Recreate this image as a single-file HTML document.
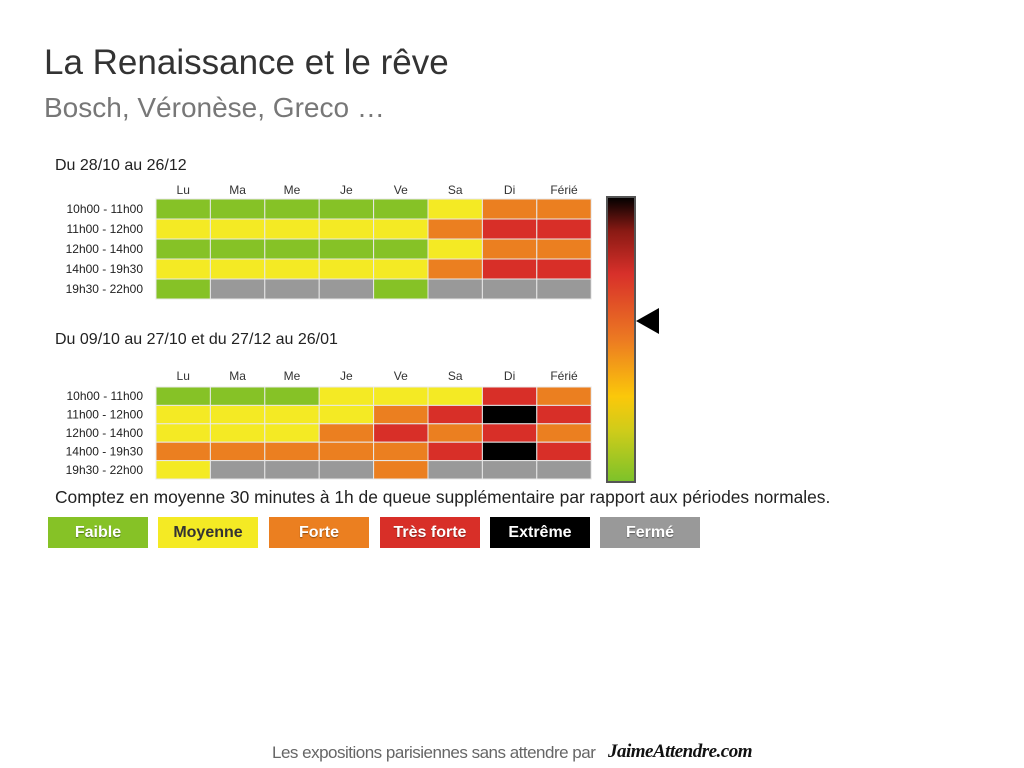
<!DOCTYPE html>
<html><head><meta charset="utf-8"><style>
body{margin:0;width:1024px;height:768px;background:#fff;position:relative;overflow:hidden;font-family:"Liberation Sans",sans-serif;}
.t{position:absolute;white-space:nowrap;}
.leg{position:absolute;top:517px;width:100px;height:31px;color:#fff;font-size:16px;font-weight:bold;text-align:center;line-height:31px;text-shadow:0 1px 1px rgba(0,0,0,.4);font-family:"Liberation Sans",sans-serif;}
</style></head><body>
<div class="t" style="left:44px;top:43px;font-size:35px;color:#333;">La Renaissance et le rêve</div>
<div class="t" style="left:44px;top:92px;font-size:28px;color:#777;letter-spacing:0px;">Bosch, Véronèse, Greco …</div>
<div class="t" style="left:55px;top:157px;font-size:16px;color:#222;">Du 28/10 au 26/12</div>
<div class="t" style="left:55px;top:331px;font-size:16px;color:#222;">Du 09/10 au 27/10 et du 27/12 au 26/01</div>
<div class="t" style="left:55px;top:487px;font-size:17.4px;color:#222;">Comptez en moyenne 30 minutes à 1h de queue supplémentaire par rapport aux périodes normales.</div>
<svg id="chart" width="1024" height="768" style="position:absolute;left:0;top:0">
<defs><linearGradient id="g" x1="0" y1="0" x2="0" y2="1">
<stop offset="0" stop-color="#000"/><stop offset="0.12" stop-color="#8a1a14"/><stop offset="0.27" stop-color="#d8302a"/><stop offset="0.5" stop-color="#ec7a22"/><stop offset="0.7" stop-color="#fbc80a"/><stop offset="0.82" stop-color="#cfcc1a"/><stop offset="1" stop-color="#7cc22a"/></linearGradient></defs>
<rect x="607" y="197" width="28" height="285" fill="url(#g)" stroke="#555" stroke-width="2"/>
<polygon points="636,321 659,308 659,334" fill="#000"/>
</svg>
<div class="leg" style="left:48px;background:#86c226;">Faible</div>
<div class="leg" style="left:158px;background:#f4ea24;color:#333;text-shadow:none;">Moyenne</div>
<div class="leg" style="left:269px;background:#eb7f20;">Forte</div>
<div class="leg" style="left:380px;background:#d82f28;">Très forte</div>
<div class="leg" style="left:490px;background:#000;">Extrême</div>
<div class="leg" style="left:600px;background:#999;">Fermé</div>
<div class="t" style="left:272px;top:743px;font-size:17px;color:#666;letter-spacing:-0.5px;">Les expositions parisiennes sans attendre par</div>
<div class="t" style="left:608px;top:741px;font-size:19px;font-weight:bold;font-style:italic;color:#111;font-family:'Liberation Serif',serif;letter-spacing:-0.5px;">JaimeAttendre.com</div>
<script>
const days=["Lu","Ma","Me","Je","Ve","Sa","Di","Férié"];
const slots=["10h00 - 11h00","11h00 - 12h00","12h00 - 14h00","14h00 - 19h30","19h30 - 22h00"];
const levelColors=["#86c226","#f4ea24","#eb7f20","#d82f28","#000000","#999999"];
const grid1=[[0,0,0,0,0,1,2,2],[1,1,1,1,1,2,3,3],[0,0,0,0,0,1,2,2],[1,1,1,1,1,2,3,3],[0,5,5,5,0,5,5,5]];
const grid2=[[0,0,0,1,1,1,3,2],[1,1,1,1,2,3,4,3],[1,1,1,2,3,2,3,2],[2,2,2,2,2,3,4,3],[1,5,5,5,2,5,5,5]];
const svg=document.getElementById('chart');
const NS="http://www.w3.org/2000/svg";
function draw(grid,top,rowH,hdrY,tag){
  const x0=156,cw=54.4;
  days.forEach((d,i)=>{const t=document.createElementNS(NS,'text');
    
    
    t.setAttribute('x',x0+cw*i+cw/2);t.setAttribute('y',hdrY);t.setAttribute('text-anchor','middle');
    t.setAttribute('font-size','12');t.setAttribute('fill','#333');t.textContent=d;svg.appendChild(t);});
  slots.forEach((s,r)=>{const t=document.createElementNS(NS,'text');
    
    
    t.setAttribute('x',143);t.setAttribute('y',top+rowH*r+rowH/2+4);t.setAttribute('text-anchor','end');
    t.setAttribute('font-size','12');t.setAttribute('fill','#222');t.textContent=s;svg.appendChild(t);
    grid[r].forEach((v,c)=>{const e=document.createElementNS(NS,'rect');
      
      
      e.setAttribute('x',x0+cw*c);e.setAttribute('y',top+rowH*r);e.setAttribute('width',cw);e.setAttribute('height',rowH);
      e.setAttribute('fill',levelColors[v]);e.setAttribute('stroke','#e8e8e8');e.setAttribute('stroke-width','1');svg.appendChild(e);});
  });
}
draw(grid1,199,20,194,'grid1');
draw(grid2,387,18.4,380,'grid2');
</script>
</body></html>
